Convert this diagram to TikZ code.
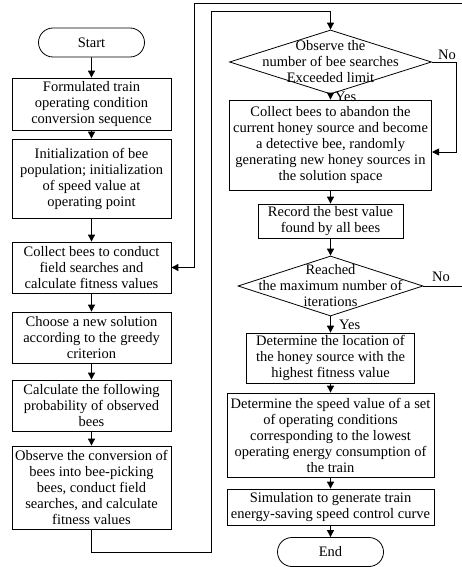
\documentclass[tikz,border=0pt]{standalone}
\usepackage{fontspec}
\setmainfont{Liberation Serif}
\usetikzlibrary{shapes.geometric,shapes.misc,arrows.meta}
\begin{document}
\begin{tikzpicture}[x=1pt,y=-1pt,
  every node/.style={font=\fontsize{14.5}{16}\selectfont},
  box/.style={draw,line width=0.8pt,align=center,inner sep=0pt,minimum width=#1},
  term/.style={draw,line width=0.8pt,rounded rectangle,minimum width=106pt,minimum height=29pt,inner sep=0pt},
  dia/.style={draw,line width=0.8pt,diamond,inner sep=0pt},
  txt/.style={align=center,inner sep=0pt},
  arr/.style={draw=black,line width=0.9pt,-{Triangle[length=7pt,width=7pt]}}]
\useasboundingbox (0,0) rectangle (461,567);
% left column
\node[term] (start) at (91.5,42.5) {Start};
\node[box=159pt,minimum height=52pt] (b1) at (91.5,104) {Formulated train\\operating condition\\conversion sequence};
\node[box=159pt,minimum height=79pt] (b2) at (91.5,178.5) {Initialization of bee\\population; initialization\\of speed value at\\operating point};
\node[box=159pt,minimum height=51pt] (b3) at (91.5,267.5) {Collect bees to conduct\\field searches and\\calculate fitness values};
\node[box=159pt,minimum height=51pt] (b4) at (91.5,337.5) {Choose a new solution\\according to the greedy\\criterion};
\node[box=159pt,minimum height=51pt] (b5) at (91.5,405.5) {Calculate the following\\probability of observed\\bees};
\node[box=159pt,minimum height=83pt] (b6) at (91.5,487.5) {Observe the conversion of\\bees into bee-picking\\bees, conduct field\\searches, and calculate\\fitness values};
% right column
\node[dia,minimum width=202pt,minimum height=64pt] (d1) at (330.5,62) {};
\node[txt] (d1t) at (330.5,62) {Observe the\\number of bee searches\\Exceeded limit};
\node[box=202pt,minimum height=90pt] (b7) at (330.5,145) {Collect bees to abandon the\\current honey source and become\\a detective bee, randomly\\generating new honey sources in\\the solution space};
\node[box=145pt,minimum height=34pt] (b8) at (330.5,221) {Record the best value\\found by all bees};
\node[dia,minimum width=185pt,minimum height=60pt] (d2) at (330.5,286) {};
\node[txt] (d2t) at (330.5,286) {Reached\\the maximum number of\\iterations};
\node[box=168pt,minimum height=50pt] (b9) at (330.5,358) {Determine the location of\\the honey source with the\\highest fitness value};
\node[box=207pt,minimum height=84pt] (b10) at (330.5,435) {Determine the speed value of a set\\of operating conditions\\corresponding to the lowest\\operating energy consumption of\\the train};
\node[box=207pt,minimum height=36pt] (b11) at (330.5,507) {Simulation to generate train\\energy-saving speed control curve};
\node[term] (stop) at (330.5,552) {End};
% right arrows
\draw[arr] (d1.south) -- (b7.north);
\draw[arr] (b7.south) -- (b8.north);
\draw[arr] (b8.south) -- (d2.north);
\draw[arr] (d2.south) -- (b9.north);
\draw[arr] (b9.south) -- (b10.north);
\draw[arr] (b10.south) -- (b11.north);
\draw[arr] (b11.south) -- (stop.north);
% labels
\node[txt,anchor=west] (y1) at (335,97) {Yes};
\node[txt] (n1) at (447,55) {No};
\node[txt,anchor=west] (y2) at (339,325) {Yes};
\node[txt] (n2) at (441,277) {No};
% coordinates
\coordinate (c1) at (91.5,552);
\coordinate (c2) at (211,552);
\coordinate (c3) at (211,11);
\coordinate (c4) at (330.5,11);
\coordinate (e1) at (463,286);
\coordinate (e2) at (463,3);
\coordinate (e3) at (194,3);
\coordinate (e4) at (194,267.5);
\coordinate (f1) at (456,62);
\coordinate (f2) at (456,152);
\coordinate (f3) at (432,152);
% left arrows
\draw[arr] (start) -- (b1);
\draw[arr] (b1) -- (b2);
\draw[arr] (b2) -- (b3);
\draw[arr] (b3) -- (b4);
\draw[arr] (b4) -- (b5);
\draw[arr] (b5) -- (b6);
% loops
\draw[arr] (b6.south) -- (c1) -- (c2) -- (c3) -- (c4) -- (d1.north);
\draw[arr] (d2.east) -- (e1) -- (e2) -- (e3) -- (e4) -- (b3.east);
\draw[arr] (d1.east) -- (f1) -- (f2) -- (f3);
\end{tikzpicture}
\end{document}
